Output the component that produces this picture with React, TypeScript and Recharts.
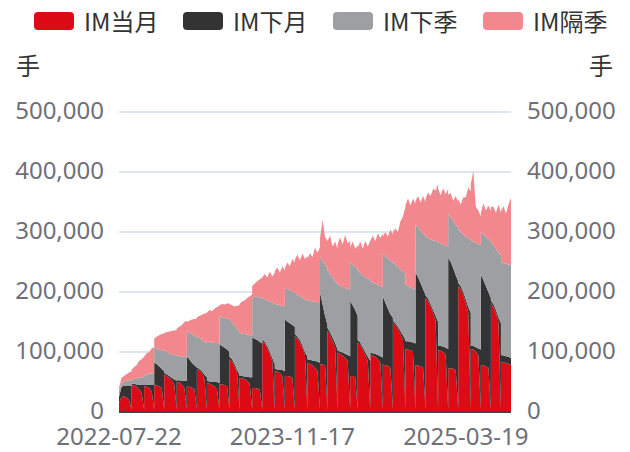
import React from 'react';
import { AreaChart, Area, XAxis, YAxis, CartesianGrid } from 'recharts';

// x position of each observation, in weeks since 2022-07-22 (each roll appears twice: before / after expiry)
const weekIndex = [
  0, 1, 2, 3, 4, 5,
  5, 6, 7, 8, 9, 10,
  10, 11, 12, 13, 14,
  14, 15, 16, 17, 18,
  18, 19, 20, 21, 22, 23,
  23, 24, 25, 26, 27,
  27, 28, 29, 30, 31,
  31, 32, 33, 34, 35,
  35, 36, 37, 38, 39, 40,
  40, 41, 42, 43, 44,
  44, 45, 46, 47, 48,
  48, 49, 50, 51, 52, 53,
  53, 54, 55, 56, 57,
  57, 58, 59, 60, 61, 62,
  62, 63, 64, 65, 66,
  66, 67, 68, 69, 70,
  70, 71, 72, 73, 74, 75,
  75, 76, 77, 78, 79, 80,
  80, 81, 82, 83,
  83, 84, 85, 86, 87,
  87, 88, 89, 90, 91, 92,
  92, 93, 94, 95,
  95, 96, 97, 98, 99, 100,
  100, 101, 102, 103, 104, 105,
  105, 106, 107, 108, 109,
  109, 110, 111, 112, 113, 114,
  114, 115, 116, 117, 118,
  118, 119, 120, 121, 122,
  122, 123, 124, 125, 126, 127,
  127, 128, 129, 130, 131,
  131, 132, 133, 134, 135,
  135, 136, 137, 138, 139, 140,
  140, 141, 142, 143, 144,
  144, 145, 146, 147, 148,
  148, 149, 150, 151, 152,
  152, 153, 154, 155, 156,
];

// open interest, thousand lots
const imCurrentK = [
  15, 25, 26, 24, 20, 4,
  44, 44, 42, 38, 32, 4,
  43, 42, 40, 34, 4,
  44, 44, 43, 40, 4,
  62, 60, 57, 53, 45, 4,
  50, 49, 46, 40, 4,
  42, 42, 41, 38, 4,
  72, 70, 64, 55, 4,
  48, 47, 45, 43, 38, 4,
  46, 46, 45, 43, 4,
  88, 84, 76, 66, 4,
  57, 56, 55, 52, 47, 4,
  40, 40, 39, 38, 4,
  118, 114, 106, 97, 85, 4,
  68, 67, 65, 60, 4,
  60, 60, 59, 57, 4,
  127, 123, 116, 107, 95, 4,
  82, 80, 78, 74, 68, 4,
  79, 79, 77, 4,
  135, 128, 118, 108, 4,
  99, 97, 94, 90, 85, 4,
  60, 60, 58, 4,
  116, 112, 104, 95, 85, 4,
  96, 94, 92, 88, 82, 4,
  79, 78, 77, 74, 4,
  149, 145, 138, 130, 120, 4,
  104, 104, 103, 100, 4,
  78, 78, 76, 74, 4,
  190, 185, 176, 165, 152, 4,
  103, 102, 100, 95, 4,
  73, 73, 72, 70, 4,
  210, 205, 195, 182, 165, 4,
  105, 104, 100, 95, 4,
  78, 78, 76, 74, 4,
  182, 175, 165, 150, 4,
  83, 82, 82, 80, 78,
];

const imNextK = [
  10, 17, 18, 20, 24, 40,
  3, 3, 4, 8, 13, 41,
  3, 4, 5, 11, 41,
  38, 36, 33, 32, 64,
  3, 3, 3, 4, 9, 48,
  3, 4, 6, 12, 48,
  50, 46, 41, 40, 70,
  2, 2, 4, 7, 54,
  4, 4, 6, 7, 12, 44,
  67, 64, 62, 61, 96,
  4, 4, 4, 4, 58,
  3, 4, 4, 7, 11, 54,
  84, 82, 81, 79, 110,
  3, 3, 4, 4, 5, 76,
  4, 4, 6, 10, 64,
  94, 91, 89, 88, 138,
  3, 3, 4, 4, 5, 88,
  6, 7, 8, 11, 16, 78,
  120, 101, 83, 141,
  5, 5, 6, 7, 100,
  3, 4, 5, 7, 10, 89,
  125, 118, 112, 156,
  4, 4, 4, 5, 7, 81,
  3, 4, 5, 7, 11, 87,
  114, 104, 95, 89, 153,
  3, 3, 4, 5, 8, 116,
  14, 14, 14, 16, 110,
  154, 147, 139, 131, 191,
  4, 4, 4, 5, 8, 146,
  7, 8, 9, 12, 101,
  184, 177, 168, 158, 214,
  5, 5, 5, 6, 10, 161,
  5, 6, 8, 11, 100,
  151, 142, 134, 126, 186,
  4, 5, 5, 8, 144,
  12, 12, 11, 12, 12,
];

const imNextQuarterK = [
  10, 6, 6, 8, 9, 9,
  7, 8, 10, 11, 13, 13,
  14, 16, 19, 19, 19,
  26, 26, 28, 31, 34,
  38, 38, 38, 39, 41, 42,
  41, 40, 41, 40, 40,
  45, 45, 48, 49, 51,
  52, 52, 52, 55, 56,
  66, 66, 65, 65, 65, 66,
  47, 48, 50, 52, 55,
  63, 62, 64, 68, 72,
  72, 71, 71, 70, 70, 69,
  66, 70, 72, 74, 76,
  69, 71, 76, 83, 92, 100,
  108, 108, 107, 107, 108,
  53, 54, 55, 56, 57,
  69, 70, 73, 79, 87, 93,
  98, 98, 98, 99, 99, 101,
  59, 72, 86, 95,
  96, 97, 100, 103, 110,
  111, 110, 110, 110, 110, 111,
  65, 68, 72, 78,
  116, 116, 120, 125, 130, 135,
  119, 118, 117, 117, 117, 117,
  72, 78, 84, 89, 93,
  98, 98, 100, 103, 106, 110,
  94, 92, 91, 90, 91,
  81, 83, 88, 93, 99,
  98, 101, 108, 116, 125, 134,
  173, 171, 170, 170, 171,
  73, 75, 78, 84, 90,
  90, 90, 96, 104, 115, 123,
  176, 174, 174, 174, 174,
  71, 76, 82, 88, 95,
  97, 98, 102, 108, 114,
  155, 154, 154, 154, 155,
];

const imFarQuarterK = [
  5, 9, 10, 11, 13, 15,
  16, 20, 22, 28, 30, 34,
  32, 36, 36, 42, 44,
  14, 20, 24, 27, 29,
  29, 32, 36, 39, 41, 43,
  45, 49, 52, 58, 60,
  13, 19, 24, 28, 31,
  32, 36, 42, 47, 51,
  48, 53, 52, 57, 60, 63,
  18, 22, 22, 25, 26,
  25, 28, 32, 39, 44,
  48, 53, 56, 61, 65, 69,
  20, 22, 26, 30, 34,
  34, 42, 38, 50, 44, 52,
  55, 62, 54, 66, 60,
  33, 44, 40, 54, 50,
  55, 66, 60, 74, 68, 76,
  69, 80, 74, 90, 82, 92,
  32, 68, 46, 45,
  49, 64, 52, 66, 58,
  67, 80, 70, 88, 76, 82,
  25, 38, 30, 40,
  38, 52, 44, 60, 54, 66,
  67, 78, 70, 86, 80, 90,
  27, 40, 36, 52, 46,
  50, 60, 58, 80, 92, 112,
  133, 146, 136, 150, 142,
  39, 52, 46, 62, 56,
  64, 76, 72, 86, 84, 96,
  89, 80, 94, 86, 96,
  32, 40, 34, 48, 42,
  50, 46, 62, 66, 84, 80,
  94, 118, 60, 56, 48,
  32, 52, 44, 56, 50,
  59, 64, 60, 80, 70,
  85, 95, 84, 100, 112,
];

const xTickValues = [0, 69, 138];
const xTickLabels = ['2022-07-22', '2023-11-17', '2025-03-19'];
const yTickValues = [0, 100000, 200000, 300000, 400000, 500000];

const seriesKeys = ['cur', 'next', 'nq', 'fq'];
const seriesNames = ['IM当月', 'IM下月', 'IM下季', 'IM隔季'];
const seriesColors = ['#DD0B15', '#333333', '#9D9FA3', '#F3878E'];

const data = weekIndex.map((w, i) => ({
  w,
  cur: imCurrentK[i] * 1000,
  next: imNextK[i] * 1000,
  nq: imNextQuarterK[i] * 1000,
  fq: imFarQuarterK[i] * 1000,
}));

const FONT = '"Noto Sans", "Noto Sans CJK SC", sans-serif';
const CJK = '"Noto Sans CJK SC", sans-serif';
const legendLefts = [34, 183, 333, 483];

export default function App() {
  const tickStyle = { fill: '#6E7079', fontSize: 24, fontFamily: FONT };
  return (
    <div style={{ position: 'absolute', left: 0, top: 0, width: 630, height: 452, background: '#fff', fontFamily: FONT }}>
      <div style={{ position: 'absolute', left: 0, top: 0 }}>
        <AreaChart width={630} height={452} data={data} margin={{ top: 112, right: 0, bottom: 0, left: 0 }}>
          <CartesianGrid yAxisId="left" vertical={false} stroke="#E0E6F1" strokeWidth={2} />
          <XAxis
            dataKey="w"
            type="number"
            domain={[0, 156]}
            ticks={xTickValues}
            interval={0}
            tickFormatter={(v: number) => xTickLabels[xTickValues.indexOf(v)] ?? ''}
            height={40}
            tickSize={0}
            tickMargin={16}
            tickLine={false}
            axisLine={{ stroke: '#444', strokeWidth: 2 }}
            tick={tickStyle}
          />
          <YAxis
            yAxisId="left"
            domain={[0, 500000]}
            ticks={yTickValues}
            interval={0}
            width={119}
            tickSize={0}
            tickMargin={15}
            tickLine={false}
            axisLine={false}
            tick={{ ...tickStyle, dy: -2 }}
            tickFormatter={(v: number) => v.toLocaleString('en-US')}
          />
          <YAxis
            yAxisId="right"
            orientation="right"
            domain={[0, 500000]}
            ticks={yTickValues}
            interval={0}
            width={119}
            tickSize={0}
            tickMargin={16}
            tickLine={false}
            axisLine={false}
            tick={{ ...tickStyle, dy: -2 }}
            tickFormatter={(v: number) => v.toLocaleString('en-US')}
          />
          {seriesKeys.map((k, i) => (
            <Area
              key={k}
              yAxisId="left"
              dataKey={k}
              name={seriesNames[i]}
              stackId="oi"
              type="linear"
              stroke="none"
              fill={seriesColors[i]}
              fillOpacity={1}
              isAnimationActive={false}
              dot={false}
              activeDot={false}
            />
          ))}
          <Area
            yAxisId="right"
            dataKey="cur"
            type="linear"
            stroke="none"
            fill="none"
            fillOpacity={0}
            legendType="none"
            isAnimationActive={false}
            dot={false}
            activeDot={false}
          />
        </AreaChart>
      </div>
      {seriesNames.map((n, i) => (
        <div key={n} style={{ position: 'absolute', left: legendLefts[i], top: 6, height: 30, display: 'flex', alignItems: 'center' }}>
          <div style={{ width: 40, height: 18, borderRadius: 4, background: seriesColors[i], marginRight: 10 }} />
          <span style={{ fontSize: 24, lineHeight: '30px', color: '#333', fontFamily: CJK }}>{n}</span>
        </div>
      ))}
      <div style={{ position: 'absolute', left: 16, top: 51, fontSize: 24, lineHeight: '28px', color: '#333', fontFamily: CJK }}>手</div>
      <div style={{ position: 'absolute', left: 589, top: 51, fontSize: 24, lineHeight: '28px', color: '#333', fontFamily: CJK }}>手</div>
    </div>
  );
}
